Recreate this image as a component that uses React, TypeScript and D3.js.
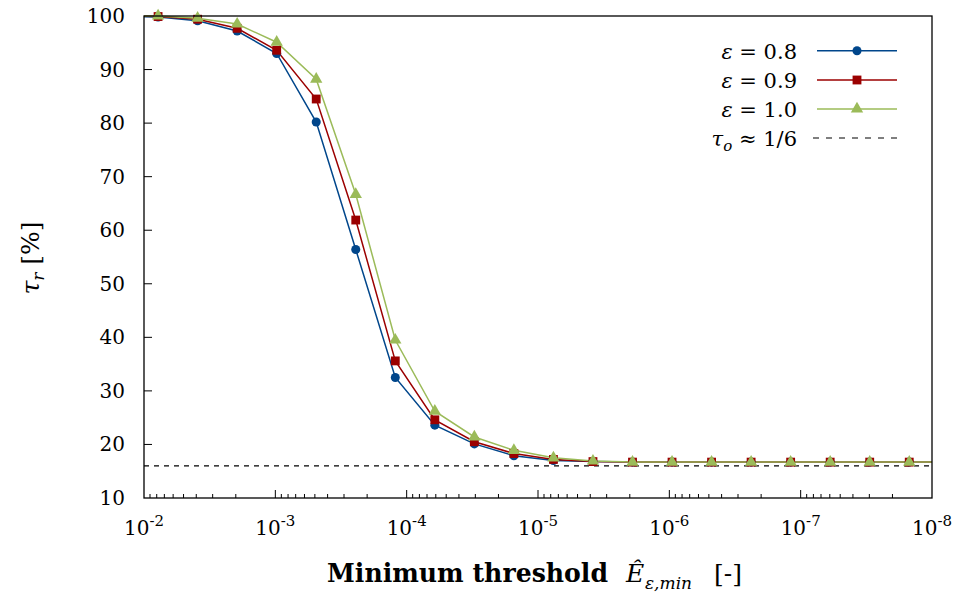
import React from "react";
import * as d3 from "d3";

// thresholds (x), including one point outside the axis range on each side (clipped)
const thresholds = [
  1.5625e-2, 7.8125e-3, 3.90625e-3, 1.953125e-3, 9.765625e-4, 4.8828125e-4,
  2.44140625e-4, 1.220703125e-4, 6.103515625e-5, 3.0517578125e-5, 1.52587890625e-5,
  7.62939453125e-6, 3.814697265625e-6, 1.9073486328125e-6, 9.5367431640625e-7,
  4.76837158203125e-7, 2.384185791015625e-7, 1.1920928955078125e-7,
  5.960464477539063e-8, 2.9802322387695312e-8, 1.4901161193847656e-8, 7.450580596923828e-9,
];
const eps08 = [100, 99.8, 99.1, 97.2, 93.0, 80.2, 56.4, 32.5, 23.6, 20.1, 17.9, 17.0, 16.8, 16.7, 16.7, 16.7, 16.7, 16.7, 16.7, 16.7, 16.7, 16.7];
const eps09 = [100, 99.9, 99.4, 97.7, 93.6, 84.5, 61.9, 35.6, 24.6, 20.5, 18.3, 17.2, 16.8, 16.7, 16.7, 16.7, 16.7, 16.7, 16.7, 16.7, 16.7, 16.7];
const eps10 = [100, 100, 99.6, 98.5, 95.1, 88.2, 66.7, 39.5, 26.2, 21.4, 18.9, 17.5, 16.9, 16.7, 16.7, 16.7, 16.7, 16.7, 16.7, 16.7, 16.7, 16.7];
const tauO = 16;
const yTicks = [10, 20, 30, 40, 50, 60, 70, 80, 90, 100];
const xTickExps = [-2, -3, -4, -5, -6, -7, -8];
const seriesLabels = ["0.8", "0.9", "1.0"];
const seriesColors = ["#00468b", "#9b0000", "#9bbb59"];
const seriesSymbols = [d3.symbolCircle, d3.symbolSquare, d3.symbolTriangle];
const symbolSizes = [64, 78, 66];

const W = 956, H = 596;
const L = 144, R = 932, T = 16, B = 498;
const FONT = "DejaVu Serif";

export default function App() {
  const x = d3.scaleLog().domain([1e-2, 1e-8]).range([L, R]);
  const y = d3.scaleLinear().domain([10, 100]).range([B, T]);
  const seriesData = [eps08, eps09, eps10];
  const line = d3
    .line<number>()
    .x((_, i) => x(thresholds[i]))
    .y((d) => y(d));

  const minorTicks: number[] = [];
  for (let e = -3; e >= -8; e--) {
    for (let m = 2; m <= 9; m++) minorTicks.push(m * Math.pow(10, e));
  }

  const legendRows = [50.7, 80, 109, 138];
  const legendX1 = 817, legendX2 = 897, legendMid = 857, legendTextX = 797;

  return (
    <div style={{ position: "fixed", left: 0, top: 0 }}>
      <svg width={W} height={H} style={{ display: "block", background: "#fff" }} fontFamily={FONT}>
        <defs>
          <clipPath id="plotClip">
            <rect x={L} y={T - 10} width={R - L} height={B - T + 10} />
          </clipPath>
        </defs>
        {/* ticks */}
        {yTicks.map((t) => (
          <g key={"y" + t}>
            {t !== 10 && t !== 100 && (
              <line x1={L} x2={L + 8} y1={y(t)} y2={y(t)} stroke="#000" strokeWidth={1} />
            )}
            <text x={125} y={y(t)} dy="0.35em" textAnchor="end" fontSize={20} fill="#000">
              {t}
            </text>
          </g>
        ))}
        {minorTicks.map((v, i) => (
          <line key={"m" + i} x1={x(v)} x2={x(v)} y1={B} y2={B - 4} stroke="#000" strokeWidth={1} />
        ))}
        {xTickExps.map((e) => {
          const v = Math.pow(10, e);
          return (
            <g key={"x" + e}>
              {e !== -2 && e !== -8 && (
                <line x1={x(v)} x2={x(v)} y1={B} y2={B - 8} stroke="#000" strokeWidth={1} />
              )}
              <text x={x(v)} y={535} textAnchor="middle" fontSize={20} fill="#000">
                10
                <tspan dy={-9} fontSize={15}>
                  {"-" + Math.abs(e)}
                </tspan>
              </text>
            </g>
          );
        })}
        {/* dashed tau_o line */}
        <line x1={L} x2={R} y1={y(tauO)} y2={y(tauO)} stroke="#000" strokeWidth={1.2} strokeDasharray="5,5" />
        {/* series lines */}
        <g clipPath="url(#plotClip)">
          {seriesData.map((s, k) => (
            <path key={"l" + k} d={line(s) || ""} fill="none" stroke={seriesColors[k]} strokeWidth={1.5} />
          ))}
        </g>
        {/* markers */}
        {seriesData.map((s, k) => (
          <g key={"p" + k} fill={seriesColors[k]}>
            {s.map((v, i) => {
              const xv = thresholds[i];
              if (xv > 1e-2 || xv < 1e-8) return null;
              return (
                <path
                  key={i}
                  d={d3.symbol().type(seriesSymbols[k]).size(symbolSizes[k])() || ""}
                  transform={`translate(${x(xv)},${y(v)})`}
                />
              );
            })}
          </g>
        ))}
        {/* frame */}
        <rect x={L} y={T} width={R - L} height={B - T} fill="none" stroke="#000" strokeWidth={1.3} />
        {/* legend */}
        {seriesLabels.map((lab, k) => (
          <g key={"lg" + k}>
            <text x={legendTextX} y={legendRows[k] + 8} textAnchor="end" fontSize={21} fill="#000">
              <tspan fontStyle="italic">ε</tspan>
              <tspan>{" = " + lab}</tspan>
            </text>
            <line x1={legendX1} x2={legendX2} y1={legendRows[k]} y2={legendRows[k]} stroke={seriesColors[k]} strokeWidth={1.5} />
            <path
              d={d3.symbol().type(seriesSymbols[k]).size(symbolSizes[k])() || ""}
              transform={`translate(${legendMid},${legendRows[k]})`}
              fill={seriesColors[k]}
            />
          </g>
        ))}
        <text x={legendTextX} y={legendRows[3] + 8} textAnchor="end" fontSize={21} fill="#000">
          <tspan fontStyle="italic">τ</tspan>
          <tspan fontStyle="italic" fontSize={15} dy={5}>o</tspan>
          <tspan dy={-5}>{" ≈ 1/6"}</tspan>
        </text>
        <line x1={legendX1 - 4} x2={legendX2} y1={legendRows[3]} y2={legendRows[3]} stroke="#000" strokeWidth={1.2} strokeDasharray="6,7" />
        {/* y label */}
        <text transform="translate(39,258) rotate(-90)" textAnchor="middle" fontSize={25} fill="#000">
          <tspan fontStyle="italic">τ</tspan>
          <tspan fontStyle="italic" fontSize={17} dy={5}>r</tspan>
          <tspan dy={-5}>{"  [%]"}</tspan>
        </text>
        {/* x label */}
        <text x={327} y={582} fontSize={26} fontWeight="bold" fill="#000" textLength={281} lengthAdjust="spacingAndGlyphs">
          Minimum threshold
        </text>
        <text x={626} y={582} fontSize={25} fontStyle="italic" fill="#000">
          Ê
        </text>
        <text x={645} y={589} fontSize={17} fontStyle="italic" fill="#000">
          ε,min
        </text>
        <text x={714} y={582} fontSize={25} fill="#000">
          [-]
        </text>
      </svg>
    </div>
  );
}
